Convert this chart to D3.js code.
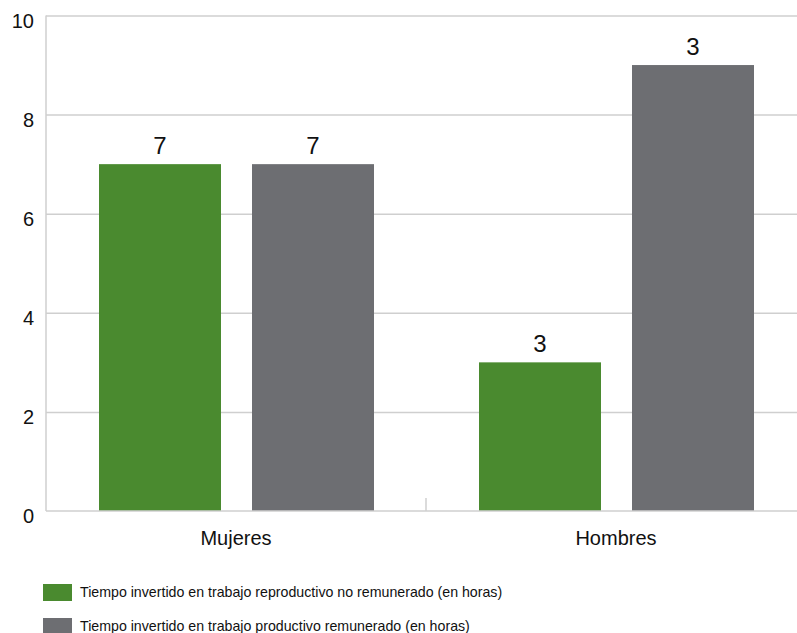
<html>
<head>
  <title>Tiempo invertido en trabajo</title>
  <script src="https://d3js.org/d3.v7.min.js"></script>
  <style>
    body { margin: 0; background: #fff; }
    text { font-family: "Liberation Sans", Arial, sans-serif; fill: #111; }
    .grid line { stroke: #cfcfcf; stroke-width: 1.5px; }
    .grid .domain { display: none; }
  </style>
</head>
<body>
  <svg id="screen"></svg>
  <script>
    // data
    const categories = ['Mujeres', 'Hombres']
    const series = ['Tiempo invertido en trabajo reproductivo no remunerado (en horas)',
                    'Tiempo invertido en trabajo productivo remunerado (en horas)']
    const reproductivo = [7, 3]
    const productivo = [7, 9]
    // labels as printed on the chart (second Hombres label reads 3)
    const reproductivoLabels = ['7', '3']
    const productivoLabels = ['7', '3']
    const yTicks = [0, 2, 4, 6, 8, 10]
    const colors = ['#4a8a2f', '#6d6e72']

    const svg = d3.select('#screen').attr('width', 797).attr('height', 633)

    // plot runs a bit past the right window edge like the original
    let x0 = d3.scaleBand().domain(categories).range([46, 806]).padding(0)
    let x1 = d3.scaleBand().domain([0, 1]).range([53, 328]).paddingInner(31 / 153).paddingOuter(0)
    let y = d3.scaleLinear().domain([0, 10]).range([511, 15.5])

    // gridlines
    svg.append('g')
       .attr('class', 'grid')
       .attr('transform', 'translate(46,0)')
       .call(d3.axisRight(y).tickValues(yTicks.slice(1)).tickSize(780).tickFormat(''))

    // y tick labels
    svg.append('g').selectAll('text')
       .data(yTicks)
       .enter()
       .append('text')
       .attr('x', 34)
       .attr('y', d => y(d) + 7)
       .attr('text-anchor', 'end')
       .attr('dominant-baseline', 'middle')
       .style('font-size', '20px')
       .text(d => d)

    // bars
    const rows = categories.map((c, i) => ({
      cat: c,
      vals: [
        {s: 0, v: reproductivo[i], lab: reproductivoLabels[i]},
        {s: 1, v: productivo[i], lab: productivoLabels[i]}
      ]
    }))

    const groups = svg.append('g').selectAll('g')
       .data(rows)
       .enter()
       .append('g')
       .attr('transform', d => 'translate(' + x0(d.cat) + ',0)')

    groups.selectAll('rect')
       .data(d => d.vals)
       .enter()
       .append('rect')
       .attr('x', d => x1(d.s))
       .attr('width', x1.bandwidth())
       .attr('y', d => y(d.v))
       .attr('height', d => y(0) - y(d.v))
       .attr('fill', d => colors[d.s])

    groups.selectAll('text')
       .data(d => d.vals)
       .enter()
       .append('text')
       .attr('x', d => x1(d.s) + x1.bandwidth() / 2)
       .attr('y', d => y(d.v) - 10)
       .attr('text-anchor', 'middle')
       .style('font-size', '24px')
       .text(d => d.lab)

    // axes lines
    svg.append('line')
       .attr('x1', 46).attr('x2', 46)
       .attr('y1', y(10)).attr('y2', y(0))
       .attr('stroke', '#cfcfcf').attr('stroke-width', 1.5)
    svg.append('line')
       .attr('x1', 46).attr('x2', 806)
       .attr('y1', y(0)).attr('y2', y(0))
       .attr('stroke', '#cfcfcf').attr('stroke-width', 1.5)
    svg.append('line')
       .attr('x1', x0('Hombres')).attr('x2', x0('Hombres'))
       .attr('y1', y(0) - 13).attr('y2', y(0))
       .attr('stroke', '#cfcfcf').attr('stroke-width', 1.5)

    // category labels
    svg.append('g').selectAll('text')
       .data(categories)
       .enter()
       .append('text')
       .attr('x', d => x0(d) + 190)
       .attr('y', 545)
       .attr('text-anchor', 'middle')
       .style('font-size', '20px')
       .text(d => d)

    // legend
    const leg = svg.append('g').selectAll('g')
       .data(series)
       .enter()
       .append('g')
       .attr('transform', (d, i) => 'translate(43,' + (584 + i * 34) + ')')
    leg.append('rect')
       .attr('width', 29).attr('height', 17)
       .attr('fill', (d, i) => colors[i])
    leg.append('text')
       .attr('x', 37)
       .attr('y', 9)
       .attr('dominant-baseline', 'middle')
       .style('font-size', '14.2px')
       .text(d => d)
  </script>
</body>
</html>
